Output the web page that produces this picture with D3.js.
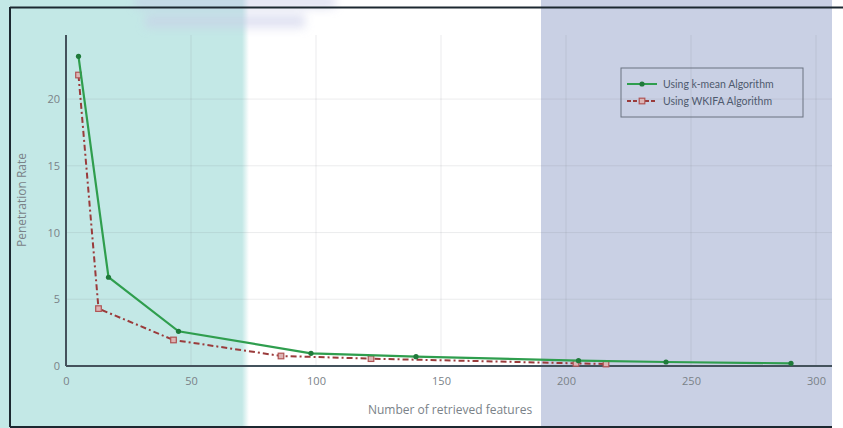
<!DOCTYPE html>
<html>
<head>
<meta charset="utf-8">
<script src="https://cdn.jsdelivr.net/npm/d3@7"></script>
<style>
  html, body { margin: 0; padding: 0; background: #ffffff; }
  svg { display: block; }
</style>
</head>
<body>
<script>
// Penetration rate against number of retrieved features for two algorithms
const seriesNames = ["Using k-mean Algorithm", "Using WKIFA Algorithm"];
const kmeanX = [5, 17, 45, 98, 140, 205, 240, 290];
const kmeanY = [23.2, 6.65, 2.6, 0.95, 0.7, 0.4, 0.3, 0.2];
const wkifaX = [5, 13, 43, 86, 122, 204, 216];
const wkifaY = [21.8, 4.3, 1.95, 0.75, 0.55, 0.2, 0.15];
const xTicks = [0, 50, 100, 150, 200, 250, 300];
const yTicks = [0, 5, 10, 15, 20];
const xTitle = "Number of retrieved features";
const yTitle = "Penetration Rate";

const W = 843, H = 428;
const svg = d3.select("body").append("svg").attr("width", W).attr("height", H);

const defs = svg.append("defs");
defs.append("filter").attr("id", "soft").attr("x", "-20%").attr("y", "-80%").attr("width", "140%").attr("height", "260%")
  .append("feGaussianBlur").attr("stdDeviation", 5);
const grad = defs.append("linearGradient").attr("id", "fade").attr("x1", 0).attr("x2", 1);
grad.append("stop").attr("offset", 0).attr("stop-color", "#c3e8e6");
grad.append("stop").attr("offset", 1).attr("stop-color", "#ffffff");

// background bands
svg.append("rect").attr("x", 0).attr("y", 0).attr("width", 242).attr("height", H).attr("fill", "#c3e8e6");
svg.append("rect").attr("x", 242).attr("y", 0).attr("width", 7).attr("height", H).attr("fill", "url(#fade)");
svg.append("rect").attr("x", 541).attr("y", 0).attr("width", 291).attr("height", H).attr("fill", "#c9d0e4");

// soft lavender smear near the top
const smear = svg.append("g").attr("filter", "url(#soft)").attr("opacity", 0.55);
smear.append("rect").attr("x", 135).attr("y", -4).attr("width", 200).attr("height", 12).attr("fill", "#c5c8e6");
smear.append("rect").attr("x", 145).attr("y", 14).attr("width", 160).attr("height", 14).attr("fill", "#c9cce8");

// frame
svg.append("line").attr("x1", 10).attr("x2", W).attr("y1", 7.5).attr("y2", 7.5).attr("stroke", "#1c2830").attr("stroke-width", 2);
svg.append("line").attr("x1", 10).attr("x2", 10).attr("y1", 7).attr("y2", 427).attr("stroke", "#1c2830").attr("stroke-width", 2);
svg.append("line").attr("x1", 10).attr("x2", 832).attr("y1", 427).attr("y2", 427).attr("stroke", "#1c2830").attr("stroke-width", 2);

const x = d3.scaleLinear().domain([0, 306.4]).range([66, 832]);
const y = d3.scaleLinear().domain([0, 24.8]).range([366, 35]);

// grid
const grid = svg.append("g");
grid.selectAll(".gx").data(xTicks.filter(d => d > 0)).enter().append("line")
  .attr("x1", d => x(d)).attr("x2", d => x(d)).attr("y1", 35).attr("y2", 366)
  .attr("stroke", "rgba(110,120,130,0.14)").attr("stroke-width", 1);
grid.selectAll(".gy").data(yTicks.filter(d => d > 0)).enter().append("line")
  .attr("x1", 66).attr("x2", 832).attr("y1", d => y(d)).attr("y2", d => y(d))
  .attr("stroke", "rgba(110,120,130,0.14)").attr("stroke-width", 1);

// axes
const xAxis = svg.append("g").attr("transform", "translate(0,366)")
  .call(d3.axisBottom(x).tickValues(xTicks).tickSize(0).tickPadding(11));
const yAxis = svg.append("g").attr("transform", "translate(66,0)")
  .call(d3.axisLeft(y).tickValues(yTicks).tickSize(0).tickPadding(6));
[xAxis, yAxis].forEach(a => {
  a.select(".domain").attr("stroke", "#44525c").attr("stroke-width", 2);
  a.selectAll("text").attr("fill", "#7a8288").attr("font-family", "Open Sans, sans-serif").attr("font-size", 11);
});
xAxis.select(".domain").attr("d", `M66,0H832`);
yAxis.select(".domain").attr("d", `M0,35V366`);

svg.append("text").attr("x", 450).attr("y", 414).attr("text-anchor", "middle")
  .attr("font-family", "Open Sans, sans-serif").attr("font-size", 12).attr("fill", "#7a8288").text(xTitle);
svg.append("text").attr("transform", "translate(26,200) rotate(-90)").attr("text-anchor", "middle")
  .attr("font-family", "Open Sans, sans-serif").attr("font-size", 12).attr("fill", "#7a8288").text(yTitle);

const green = "#2f9e4e", red = "#9a3b3b";
const line = d3.line().x(d => x(d[0])).y(d => y(d[1]));
const kData = kmeanX.map((v, i) => [v, kmeanY[i]]);
const wData = wkifaX.map((v, i) => [v, wkifaY[i]]);

// WKIFA series
svg.append("path").datum(wData).attr("d", line).attr("fill", "none")
  .attr("stroke", red).attr("stroke-width", 2).attr("stroke-dasharray", "6,3,2,3");
svg.selectAll(".wm").data(wData).enter().append("rect")
  .attr("x", d => x(d[0]) - 2.8).attr("y", d => y(d[1]) - 2.8).attr("width", 5.6).attr("height", 5.6)
  .attr("fill", "#dcb4b4").attr("stroke", "#b05454").attr("stroke-width", 1.2);

// k-mean series
svg.append("path").datum(kData).attr("d", line).attr("fill", "none")
  .attr("stroke", green).attr("stroke-width", 2.2);
svg.selectAll(".km").data(kData).enter().append("circle")
  .attr("cx", d => x(d[0])).attr("cy", d => y(d[1])).attr("r", 2.6).attr("fill", "#1f7a3a");

// legend
const lg = svg.append("g");
lg.append("rect").attr("x", 621).attr("y", 68).attr("width", 182).attr("height", 49)
  .attr("fill", "none").attr("stroke", "#6a7280").attr("stroke-width", 1);
const items = [
  { name: seriesNames[0], color: green, dash: null, marker: "circle", yy: 84 },
  { name: seriesNames[1], color: red, dash: "4,2", marker: "square", yy: 101 }
];
items.forEach(it => {
  lg.append("line").attr("x1", 627).attr("x2", 657).attr("y1", it.yy).attr("y2", it.yy)
    .attr("stroke", it.color).attr("stroke-width", 2).attr("stroke-dasharray", it.dash);
  if (it.marker === "circle") {
    lg.append("circle").attr("cx", 642).attr("cy", it.yy).attr("r", 2.6).attr("fill", "#1f7a3a");
  } else {
    lg.append("rect").attr("x", 639.2).attr("y", it.yy - 2.8).attr("width", 5.6).attr("height", 5.6)
      .attr("fill", "#dcb4b4").attr("stroke", "#b05454").attr("stroke-width", 1.2);
  }
  lg.append("text").attr("x", 663).attr("y", it.yy + 3.5)
    .attr("font-family", "Lato, Open Sans, sans-serif").attr("font-size", 10.5).attr("fill", "#4f5a6e").text(it.name);
});
</script>
</body>
</html>
